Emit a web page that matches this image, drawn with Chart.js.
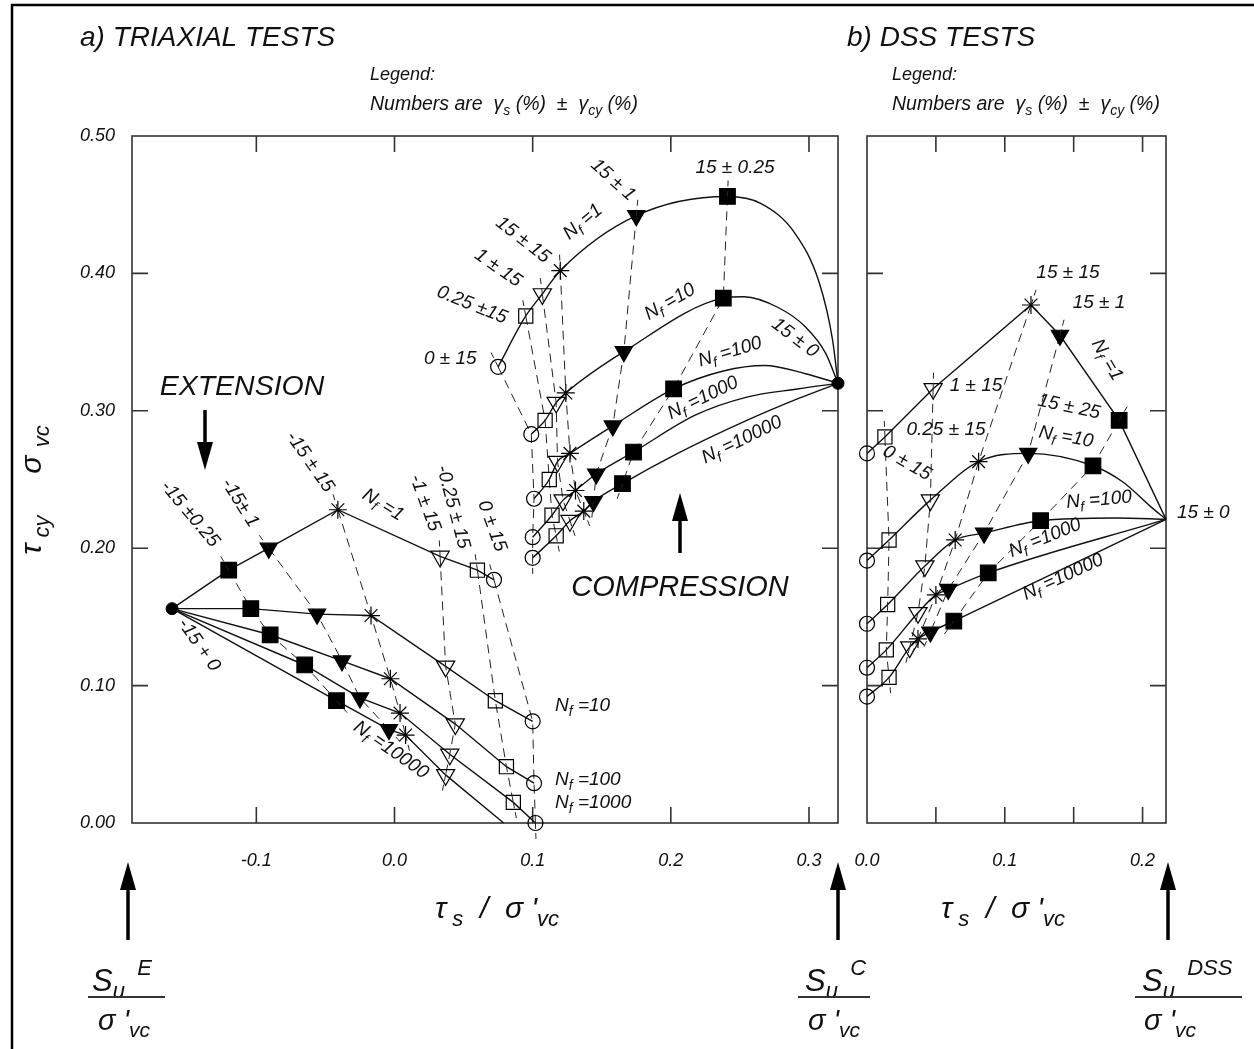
<!DOCTYPE html>
<html>
<head>
<meta charset="utf-8">
<script src="https://cdn.jsdelivr.net/npm/chart.js@4.4.1/dist/chart.umd.min.js"></script>
<style>
  html, body { margin: 0; padding: 0; background: #fff; }
  #page { position: relative; width: 1254px; height: 1049px; overflow: hidden; background: #fff; }
  #page canvas { position: absolute; left: 0; top: 0; }
</style>
</head>
<body>
<div id="page">
  <canvas id="triaxial" width="1254" height="1049"></canvas>
  <canvas id="dss" width="1254" height="1049"></canvas>
</div>
<script>
// ---- ticks
const triXLabels = [-0.1, 0.0, 0.1, 0.2, 0.3];
const triXMarks = [-0.1, 0.0, 0.1, 0.2, 0.3];
const dssXLabels = [0.0, 0.1, 0.2];
const dssXMarks = [0.05, 0.1, 0.15, 0.2];
const yLabels = [0.0, 0.1, 0.2, 0.3, 0.4, 0.5];
const yMarks = [0.1, 0.2, 0.3, 0.4];

// ---- triaxial, extension side (markers ordered -15±0.25, -15±1, -15±15, -1±15, -0.25±15, 0±15)
const extKinds = ['fsq', 'ftri', 'star', 'otri', 'osq', 'ocirc'];
const extSuE = [-0.161, 0.156];
const extNf1 = [[-0.120, 0.184], [-0.091, 0.200], [-0.041, 0.228], [0.033, 0.194], [0.060, 0.184], [0.072, 0.177]];
const extNf10 = [[-0.104, 0.156], [-0.056, 0.152], [-0.017, 0.151], [0.037, 0.114], [0.073, 0.089], [0.100, 0.074]];
const extNf100 = [[-0.090, 0.137], [-0.038, 0.118], [-0.003, 0.105], [0.044, 0.072], [0.081, 0.041], [0.101, 0.029]];
const extNf1000 = [[-0.065, 0.115], [-0.025, 0.091], [0.004, 0.080], [0.040, 0.050], [0.086, 0.015], [0.102, 0.000]];
const extNf10000 = [[-0.042, 0.089], [-0.004, 0.068], [0.008, 0.064], [0.037, 0.035], null, null];
const extNf10000End = [0.079, 0.000];

// ---- triaxial, compression side (markers ordered 0±15, 0.25±15, 1±15, 15±15, 15±1, 15±0.25)
const compKinds = ['ocirc', 'osq', 'otri', 'star', 'ftri', 'fsq'];
const compSuC = [0.321, 0.320];
const compNf1 = [[0.075, 0.332], [0.095, 0.369], [0.107, 0.385], [0.120, 0.402], [0.175, 0.442], [0.241, 0.456]];
const compNf1Tail = [[0.265, 0.451], [0.290, 0.429], [0.3075, 0.393], [0.317, 0.352]];
const compNf10 = [[0.099, 0.283], [0.109, 0.293], [0.117, 0.306], [0.124, 0.313], [0.166, 0.343], [0.238, 0.382]];
const compNf10Tail = [[0.253, 0.383], [0.278, 0.375], [0.2975, 0.361], [0.312, 0.342]];
const compNf100 = [[0.101, 0.236], [0.112, 0.250], [0.118, 0.263], [0.127, 0.269], [0.158, 0.289], [0.202, 0.316]];
const compNf100Tail = [[0.238, 0.329], [0.268, 0.333], [0.2975, 0.327]];
const compNf1000 = [[0.100, 0.208], [0.114, 0.224], [0.122, 0.235], [0.131, 0.242], [0.146, 0.254], [0.173, 0.270]];
const compNf1000Tail = [[0.218, 0.297], [0.255, 0.310], [0.2925, 0.316]];
const compNf10000 = [[0.100, 0.193], [0.117, 0.209], [0.127, 0.220], [0.137, 0.227], [0.144, 0.234], [0.165, 0.247]];
const compNf10000Tail = [[0.205, 0.269], [0.255, 0.293], [0.2925, 0.309]];

// ---- DSS (markers ordered 0±15, 0.25±15, 1±15, 15±15, 15±1, 15±0.25)
const dssKinds = ['ocirc', 'osq', 'otri', 'star', 'ftri', 'fsq'];
const dssSu = [0.217, 0.221];
const dssNf1 = [[0, 0.269], [0.013, 0.281], [0.048, 0.316], [0.119, 0.377], [0.140, 0.355], [0.183, 0.293]];
const dssNf10 = [[0, 0.191], [0.016, 0.206], [0.046, 0.235], [0.081, 0.263], [0.117, 0.269], [0.164, 0.260]];
const dssNf10Tail = [[0.186, 0.248], [0.205, 0.231]];
const dssNf100 = [[0, 0.145], [0.015, 0.159], [0.042, 0.187], [0.064, 0.206], [0.085, 0.211], [0.126, 0.220]];
const dssNf100Tail = [[0.181, 0.222]];
const dssNf1000 = [[0, 0.113], [0.014, 0.126], [0.037, 0.153], [0.050, 0.166], [0.059, 0.170], [0.088, 0.182]];
const dssNf10000 = [[0, 0.092], [0.016, 0.106], [0.031, 0.128], [0.037, 0.134], [0.046, 0.139], [0.063, 0.147]];

const FONT = '"Liberation Sans", Arial, sans-serif';
const INK = '#111';
const LBL = 19;

const markerStyle = {
  ocirc: { style: 'circle', r: 7.5, rot: 0, filled: false },
  osq: { style: 'rect', r: 10, rot: 0, filled: false },
  otri: { style: 'triangle', r: 10.5, rot: 180, filled: false },
  star: { style: 'star', r: 9, rot: 0, filled: false },
  ftri: { style: 'triangle', r: 10, rot: 180, filled: true },
  fsq: { style: 'rect', r: 11, rot: 0, filled: true }
};

const xy = pts => pts.map(p => ({ x: p[0], y: p[1] }));

function curve(pts, smooth) {
  return {
    data: xy(pts), showLine: true, borderColor: INK, borderWidth: 1.4,
    pointRadius: 0, tension: smooth ? 0.4 : 0,
    cubicInterpolationMode: smooth ? 'monotone' : 'default',
    order: 2, clip: false
  };
}

// dashed lines joining the same test (same marker) across N_f curves
function testLines(rows, kinds, tail, noLine) {
  return kinds.map((k, i) => {
    const st = markerStyle[k];
    const hidden = noLine && noLine.includes(k);
    const pts = rows.map(r => r[i]).filter(Boolean);
    return {
      data: xy(pts), showLine: !hidden,
      borderColor: '#222', borderWidth: 1, borderDash: [9, 6], tension: 0,
      pointStyle: st.style, pointRadius: st.r, pointRotation: st.rot,
      pointBackgroundColor: st.filled ? '#000' : 'rgba(0,0,0,0)',
      pointBorderColor: '#000', pointBorderWidth: 1.2,
      tail: hidden ? 0 : tail,
      order: 1, clip: false
    };
  });
}

function dots(pts) {
  return {
    data: xy(pts), showLine: false, pointStyle: 'circle', pointRadius: 6,
    pointBackgroundColor: '#000', pointBorderColor: '#000', order: 0, clip: false
  };
}

// ---- rich text: _{sub} ^{sup}
function parseRich(str) {
  const parts = [];
  const re = /([_^])\{([^}]*)\}/g;
  let last = 0, m;
  while ((m = re.exec(str))) {
    if (m.index > last) parts.push({ t: str.slice(last, m.index), k: 0 });
    parts.push({ t: m[2], k: m[1] === '_' ? 1 : -1 });
    last = re.lastIndex;
  }
  if (last < str.length) parts.push({ t: str.slice(last), k: 0 });
  return parts;
}

function drawRich(ctx, n) {
  const size = n.s, parts = parseRich(n.t);
  const fontFor = k => `italic ${k ? Math.round(size * 0.72) : size}px ${FONT}`;
  let w = 0;
  parts.forEach(p => { ctx.font = fontFor(p.k); p.w = ctx.measureText(p.t).width; w += p.w; });
  ctx.save();
  ctx.translate(n.x, n.y);
  ctx.rotate((n.a || 0) * Math.PI / 180);
  ctx.textBaseline = 'middle';
  ctx.textAlign = 'left';
  ctx.fillStyle = INK;
  let cx = n.al === 'left' ? 0 : -w / 2;
  parts.forEach(p => {
    ctx.font = fontFor(p.k);
    const dy = p.k === 1 ? size * 0.32 : p.k === -1 ? -size * 0.42 : 0;
    ctx.fillText(p.t, cx, dy);
    cx += p.w;
  });
  ctx.restore();
}

function arrow(ctx, x, y0, tip) {
  const dir = tip > y0 ? 1 : -1;
  ctx.save();
  ctx.strokeStyle = '#000';
  ctx.fillStyle = '#000';
  ctx.lineWidth = 3.5;
  ctx.beginPath();
  ctx.moveTo(x, y0);
  ctx.lineTo(x, tip - dir * 20);
  ctx.stroke();
  ctx.beginPath();
  ctx.moveTo(x, tip);
  ctx.lineTo(x - 8, tip - dir * 28);
  ctx.lineTo(x + 8, tip - dir * 28);
  ctx.closePath();
  ctx.fill();
  ctx.restore();
}

// ---- plugins
const frameTicks = {
  id: 'frameTicks',
  beforeDatasetsDraw(chart, args, opts) {
    const { ctx, chartArea: a, scales } = chart;
    ctx.save();
    ctx.strokeStyle = '#333';
    ctx.lineWidth = 1.6;
    ctx.strokeRect(a.left, a.top, a.right - a.left, a.bottom - a.top);
    ctx.beginPath();
    opts.xMarks.forEach(v => {
      const px = scales.x.getPixelForValue(v);
      ctx.moveTo(px, a.bottom); ctx.lineTo(px, a.bottom - 16);
      ctx.moveTo(px, a.top); ctx.lineTo(px, a.top + 16);
    });
    opts.yMarks.forEach(v => {
      const py = scales.y.getPixelForValue(v);
      ctx.moveTo(a.left, py); ctx.lineTo(a.left + 16, py);
      ctx.moveTo(a.right, py); ctx.lineTo(a.right - 16, py);
    });
    ctx.stroke();
    ctx.restore();
  }
};

const dashTails = {
  id: 'dashTails',
  afterDatasetsDraw(chart) {
    const ctx = chart.ctx;
    chart.data.datasets.forEach((ds, i) => {
      if (!ds.tail) return;
      const pts = chart.getDatasetMeta(i).data;
      if (pts.length < 2) return;
      ctx.save();
      ctx.strokeStyle = ds.borderColor;
      ctx.lineWidth = ds.borderWidth;
      ctx.setLineDash([6, 4]);
      const seg = (p, q) => {
        const dx = p.x - q.x, dy = p.y - q.y, d = Math.hypot(dx, dy) || 1;
        ctx.beginPath();
        ctx.moveTo(p.x, p.y);
        ctx.lineTo(p.x + dx / d * ds.tail, p.y + dy / d * ds.tail);
        ctx.stroke();
      };
      seg(pts[0], pts[1]);
      seg(pts[pts.length - 1], pts[pts.length - 2]);
      ctx.restore();
    });
  }
};

const notes = {
  id: 'notes',
  afterDraw(chart, args, opts) {
    const ctx = chart.ctx;
    (opts.items || []).forEach(n => drawRich(ctx, n));
    (opts.arrows || []).forEach(r => arrow(ctx, r[0], r[1], r[2]));
    ctx.save();
    ctx.strokeStyle = '#333';
    ctx.lineWidth = 2;
    (opts.rules || []).forEach(r => {
      ctx.beginPath(); ctx.moveTo(r[0], r[2]); ctx.lineTo(r[1], r[2]); ctx.stroke();
    });
    ctx.restore();
    if (opts.border) {
      ctx.save();
      ctx.strokeStyle = '#000';
      ctx.lineWidth = 2.5;
      ctx.beginPath();
      ctx.moveTo(12, 1049); ctx.lineTo(12, 5); ctx.lineTo(1254, 5);
      ctx.stroke();
      ctx.restore();
    }
  }
};

function tickFont() {
  return { family: FONT, size: 18, style: 'italic' };
}

function baseOptions(padding, xMin, xMax, xLabels, showYLabels, marks, noteOpts) {
  return {
    responsive: false,
    devicePixelRatio: 1,
    animation: false,
    events: [],
    layout: { padding },
    plugins: {
      legend: { display: false },
      tooltip: { enabled: false },
      frameTicks: marks,
      notes: noteOpts
    },
    scales: {
      x: {
        type: 'linear', min: xMin, max: xMax,
        grid: { display: false, drawTicks: false },
        border: { display: false },
        afterBuildTicks: s => { s.ticks = xLabels.map(v => ({ value: v })); },
        afterFit: s => { s.height = 60; },
        ticks: { font: tickFont(), color: INK, padding: 27, maxRotation: 0, callback: v => v.toFixed(1) }
      },
      y: {
        type: 'linear', min: 0, max: 0.5,
        grid: { display: false, drawTicks: false },
        border: { display: false },
        afterBuildTicks: s => { s.ticks = yLabels.map(v => ({ value: v })); },
        afterFit: s => { s.width = showYLabels ? 132 : 0; },
        ticks: { display: showYLabels, font: tickFont(), color: INK, padding: 17, callback: v => v.toFixed(2) }
      }
    }
  };
}

// ---- triaxial panel
const extRows = [extNf1, extNf10, extNf100, extNf1000, extNf10000];
const compRows = [compNf1, compNf10, compNf100, compNf1000, compNf10000];

const triDatasets = [
  curve([extSuE, ...extNf1], false),
  curve([extSuE, ...extNf10], false),
  curve([extSuE, ...extNf100], false),
  curve([extSuE, ...extNf1000], false),
  curve([extSuE, ...extNf10000.filter(Boolean), extNf10000End], false),
  curve([...compNf1, ...compNf1Tail, compSuC], true),
  curve([...compNf10, ...compNf10Tail, compSuC], true),
  curve([...compNf100, ...compNf100Tail, compSuC], true),
  curve([...compNf1000, ...compNf1000Tail, compSuC], true),
  curve([...compNf10000, ...compNf10000Tail, compSuC], true),
  ...testLines(extRows, extKinds, 16),
  ...testLines(compRows, compKinds, 16),
  dots([extSuE, compSuC])
];

const triNotes = [
  { t: 'a) TRIAXIAL TESTS', x: 80, y: 38, s: 28, al: 'left' },
  { t: 'Legend:', x: 370, y: 75, s: 18, al: 'left' },
  { t: 'Numbers are  γ_{s} (%)  ±  γ_{cy} (%)', x: 370, y: 105, s: 19.5, al: 'left' },
  { t: '-15 ±0.25', x: 190, y: 514, s: LBL, a: 50 },
  { t: '-15± 1', x: 240, y: 503, s: LBL, a: 58 },
  { t: '-15 ± 15', x: 310, y: 462, s: LBL, a: 55 },
  { t: 'N_{f} =1', x: 383, y: 505, s: LBL, a: 32 },
  { t: '-1 ± 15', x: 425, y: 503, s: LBL, a: 70 },
  { t: '-0.25 ± 15', x: 453, y: 507, s: LBL, a: 75 },
  { t: '0 ± 15', x: 492, y: 526, s: LBL, a: 70 },
  { t: '-15 + 0', x: 199, y: 645, s: LBL, a: 55 },
  { t: 'N_{f} =10000', x: 391, y: 750, s: LBL, a: 35 },
  { t: 'N_{f} =10', x: 555, y: 706, s: LBL, al: 'left' },
  { t: 'N_{f} =100', x: 555, y: 780, s: LBL, al: 'left' },
  { t: 'N_{f} =1000', x: 555, y: 803, s: LBL, al: 'left' },
  { t: '0 ± 15', x: 424, y: 359, s: LBL, al: 'left' },
  { t: '0.25 ±15', x: 472, y: 305, s: LBL, a: 22 },
  { t: '1 ± 15', x: 498, y: 268, s: LBL, a: 35 },
  { t: '15 ± 15', x: 523, y: 240, s: LBL, a: 38 },
  { t: '15 ± 1', x: 613, y: 180, s: LBL, a: 42 },
  { t: 'N_{f} =1', x: 583, y: 222, s: LBL, a: -40 },
  { t: '15 ± 0.25', x: 735, y: 168, s: LBL },
  { t: 'N_{f} =10', x: 670, y: 302, s: LBL, a: -30 },
  { t: 'N_{f} =100', x: 730, y: 352, s: LBL, a: -17 },
  { t: '15 ± 0', x: 795, y: 338, s: LBL, a: 37 },
  { t: 'N_{f} =1000', x: 703, y: 398, s: LBL, a: -26 },
  { t: 'N_{f} =10000', x: 742, y: 440, s: LBL, a: -26 },
  { t: 'EXTENSION', x: 242, y: 387, s: 28.5 },
  { t: 'COMPRESSION', x: 680, y: 588, s: 29 },
  { t: 'τ_{ cy}     σ _{vc}', x: 33, y: 490, s: 30, a: -90 },
  { t: "τ_{ s}  /  σ '_{vc}", x: 497, y: 910, s: 30 },
  { t: 'S_{u}^{  E}', x: 92, y: 982, s: 31, al: 'left' },
  { t: "σ '_{vc}", x: 98, y: 1022, s: 29, al: 'left' },
  { t: 'S_{u}^{  C}', x: 805, y: 982, s: 31, al: 'left' },
  { t: "σ '_{vc}", x: 808, y: 1022, s: 29, al: 'left' }
];

new Chart(document.getElementById('triaxial'), {
  type: 'scatter',
  data: { datasets: triDatasets },
  options: baseOptions(
    { left: 0, top: 136, right: 416, bottom: 166 },
    -0.19, 0.321, triXLabels, true,
    { xMarks: triXMarks, yMarks },
    {
      items: triNotes,
      arrows: [[205, 410, 470], [680, 553, 493], [128, 940, 862], [838, 940, 862]],
      rules: [[88, 165, 997], [798, 870, 997]],
      border: true
    }
  ),
  plugins: [frameTicks, dashTails, notes]
});

// ---- DSS panel
const dssRows = [dssNf1, dssNf10, dssNf100, dssNf1000, dssNf10000];

const dssDatasets = [
  curve([...dssNf1, dssSu], false),
  curve([...dssNf10, ...dssNf10Tail, dssSu], true),
  curve([...dssNf100, ...dssNf100Tail, dssSu], true),
  curve([...dssNf1000, dssSu], true),
  curve([...dssNf10000, dssSu], true),
  ...testLines(dssRows, dssKinds, 16, ['ocirc'])
];

const dssNotes = [
  { t: 'b) DSS TESTS', x: 847, y: 38, s: 28, al: 'left' },
  { t: 'Legend:', x: 892, y: 75, s: 18, al: 'left' },
  { t: 'Numbers are  γ_{s} (%)  ±  γ_{cy} (%)', x: 892, y: 105, s: 19.5, al: 'left' },
  { t: '15 ± 15', x: 1068, y: 273, s: LBL },
  { t: '15 ± 1', x: 1099, y: 303, s: LBL },
  { t: 'N_{f} =1', x: 1107, y: 360, s: LBL, a: 60 },
  { t: '1 ± 15', x: 976, y: 386, s: LBL },
  { t: '15 ± 25', x: 1069, y: 407, s: LBL, a: 12 },
  { t: '0.25 ± 15', x: 946, y: 430, s: LBL },
  { t: 'N_{f} =10', x: 1066, y: 437, s: LBL, a: 10 },
  { t: '0 ± 15', x: 907, y: 463, s: LBL, a: 30 },
  { t: 'N_{f} =100', x: 1099, y: 500, s: LBL, a: -5 },
  { t: 'N_{f} =1000', x: 1045, y: 538, s: LBL, a: -22 },
  { t: 'N_{f} =10000', x: 1063, y: 577, s: LBL, a: -25 },
  { t: '15 ± 0', x: 1177, y: 513, s: LBL, al: 'left' },
  { t: "τ_{ s}  /  σ '_{vc}", x: 1003, y: 910, s: 30 },
  { t: 'S_{u}^{  DSS}', x: 1142, y: 982, s: 31, al: 'left' },
  { t: "σ '_{vc}", x: 1144, y: 1022, s: 29, al: 'left' }
];

new Chart(document.getElementById('dss'), {
  type: 'scatter',
  data: { datasets: dssDatasets },
  options: baseOptions(
    { left: 867, top: 136, right: 88, bottom: 166 },
    0, 0.217, dssXLabels, false,
    { xMarks: dssXMarks, yMarks },
    {
      items: dssNotes,
      arrows: [[1168, 940, 862]],
      rules: [[1135, 1242, 997]]
    }
  ),
  plugins: [frameTicks, dashTails, notes]
});
</script>
</body>
</html>
